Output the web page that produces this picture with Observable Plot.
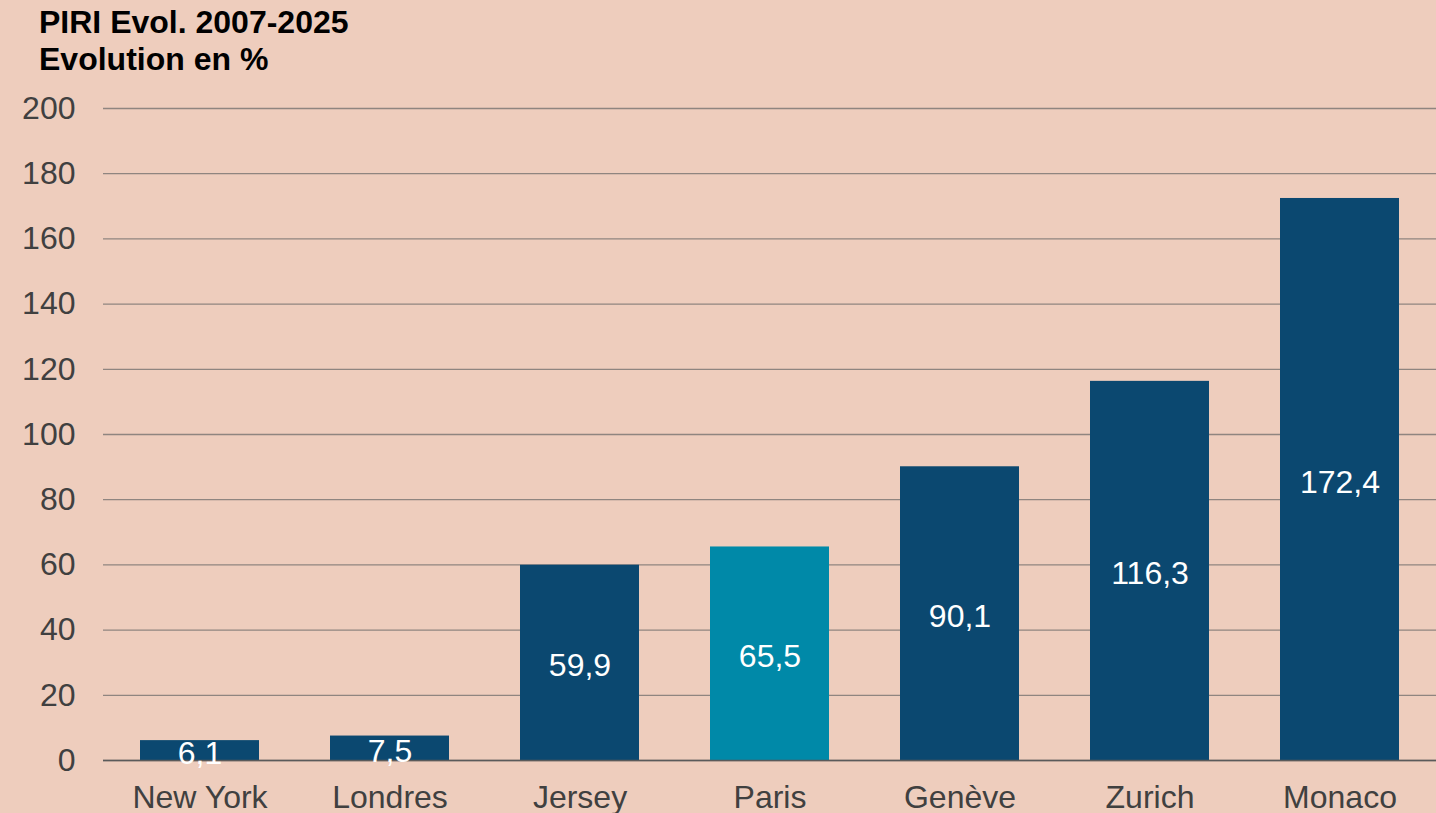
<!DOCTYPE html>
<html>
<head>
<meta charset="utf-8">
<script src="https://cdn.jsdelivr.net/npm/d3@7"></script>
<script src="https://cdn.jsdelivr.net/npm/@observablehq/plot@0.6"></script>
<style>
  html, body { margin: 0; padding: 0; background: #EECDBD; overflow: hidden; }
  #title { height: 90px; box-sizing: border-box; padding: 4px 0 0 39px; font-family: "Liberation Sans", Arial, sans-serif; font-weight: bold; font-size: 32px; line-height: 37px; color: #000; }
  #chart svg { display: block; }
</style>
</head>
<body>
<div id="title">PIRI Evol. 2007-2025<br>Evolution en %</div>
<div id="chart"></div>
<script>
const cities = ["New York", "Londres", "Jersey", "Paris", "Genève", "Zurich", "Monaco"];
const values = [6.1, 7.5, 59.9, 65.5, 90.1, 116.3, 172.4];
const highlight = ["Paris"];
const yTicks = [0, 20, 40, 60, 80, 100, 120, 140, 160, 180, 200];

const data = cities.map((c, i) => ({city: c, value: values[i]}));
const fmt = v => v.toFixed(1).replace(".", ",");

const chart = Plot.plot({
  width: 1436,
  height: 723,
  marginLeft: 103,
  marginRight: 0,
  marginTop: 18,
  marginBottom: 53,
  style: {background: "#EECDBD", fontFamily: "'Liberation Sans', Arial, sans-serif", fontSize: "32px", color: "#404040"},
  x: {domain: cities, paddingInner: 0.375, paddingOuter: 0.1875, label: null},
  y: {domain: [0, 200], label: null},
  marks: [
    Plot.gridY(yTicks, {stroke: "#8f8580", strokeOpacity: 1, strokeWidth: 1.3}),
    Plot.barY(data, {x: "city", y: "value", fill: d => highlight.includes(d.city) ? "#0089A8" : "#0B4870"}),
    Plot.ruleY([0], {stroke: "#5a5a5a", strokeWidth: 1.3}),
    Plot.text(data, {x: "city", y: d => d.value / 2, dy: 3, text: d => fmt(d.value), fill: "white", fontSize: 32}),
    Plot.axisY(yTicks, {tickSize: 0, tickPadding: 28, fontSize: 32, fill: "#404040", label: null}),
    Plot.axisX({tickSize: 0, tickPadding: 25, fontSize: 32, fill: "#404040", label: null})
  ]
});
document.getElementById("chart").appendChild(chart);
</script>
</body>
</html>
